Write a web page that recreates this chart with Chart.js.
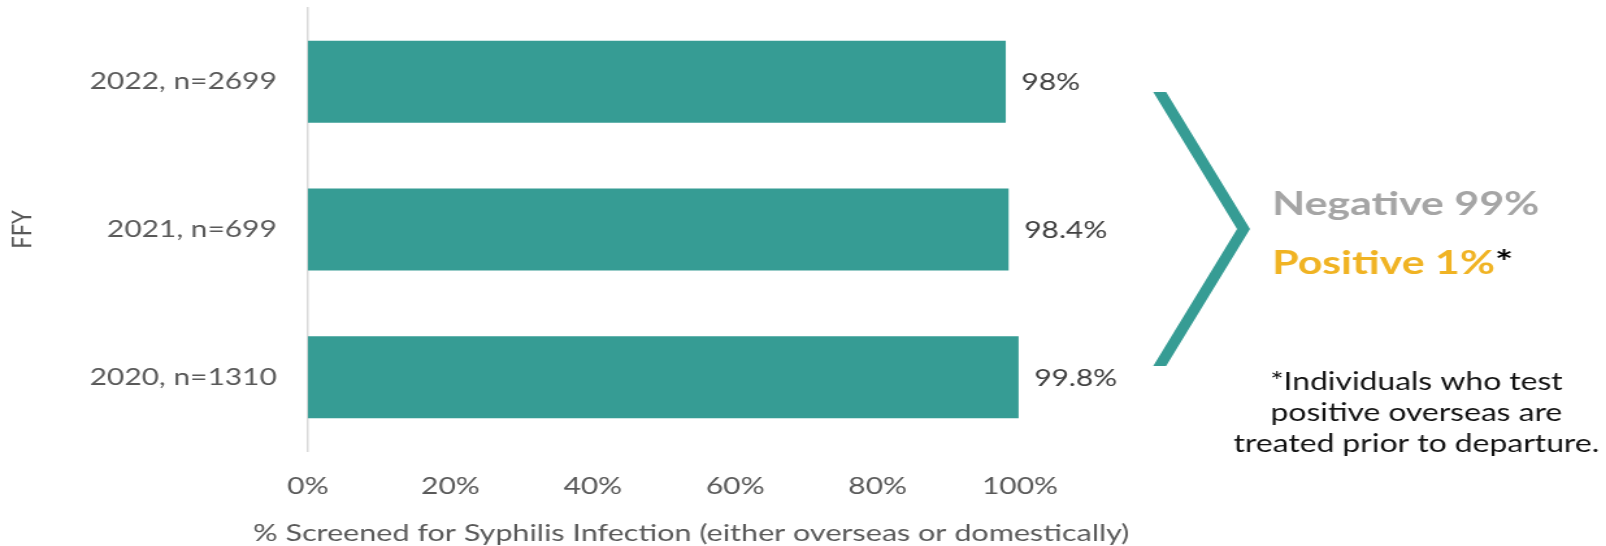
<!DOCTYPE html>
<html>
<head>
<meta charset="utf-8">
<title>Syphilis screening by FFY</title>
<script src="https://cdn.jsdelivr.net/npm/chart.js@4/dist/chart.umd.min.js"></script>
<style>
    html, body { margin: 0; padding: 0; background: #fff; overflow: hidden; }
    /* the chart is laid out narrow and widened to the 1606px slide width */
    #wrap { width: 1236px; height: 546px; transform: scaleX(1.2994); transform-origin: 0 0; }
</style>
</head>
<body>
<div id="wrap"><canvas id="screeningChart" width="1236" height="546"></canvas></div>
<script>
// Screening results per fiscal year (top to bottom)
const categories = ['2022, n=2699', '2021, n=699', '2020, n=1310'];
const screenedPct = [98, 98.4, 99.8];
const xTicks = [0, 20, 40, 60, 80, 100];

const xTitle = '% Screened for Syphilis Infection (either overseas or domestically)';
const negativeText = 'Negative 99%';
const positiveText = 'Positive 1%';
const footnoteLines = ['*Individuals who test', 'positive overseas are', 'treated prior to departure.'];

const TEAL = '#369c94';
const AXIS_TEXT = '#595959';
const FONT = 'Lato';

/**
 * Percent labels at the end of each bar
 */
const valueLabels = {
    id: 'valueLabels',
    afterDatasetsDraw(chart) {
        const ctx = chart.ctx;
        const meta = chart.getDatasetMeta(0);
        ctx.save();
        ctx.font = '23px ' + FONT;
        ctx.fillStyle = '#404040';
        ctx.textAlign = 'left';
        ctx.textBaseline = 'middle';
        meta.data.forEach((bar, i) => {
            ctx.fillText(screenedPct[i] + '%', bar.x + 12, bar.y + 1);
        });
        ctx.restore();
    }
};

/**
 * Axis title, bracket and the result summary on the right
 */
const sideNotes = {
    id: 'sideNotes',
    afterDraw(chart) {
        const ctx = chart.ctx;
        ctx.save();

        // x axis title
        ctx.font = '23.5px ' + FONT;
        ctx.fillStyle = AXIS_TEXT;
        ctx.textAlign = 'center';
        ctx.textBaseline = 'middle';
        ctx.fillText(xTitle, 532, 533);

        // bracket pointing at the summary, ends cut flat
        ctx.save();
        ctx.beginPath();
        ctx.rect(850, 92, 150, 274);
        ctx.clip();
        ctx.beginPath();
        ctx.moveTo(884, 74);
        ctx.lineTo(957, 229);
        ctx.lineTo(884, 384);
        ctx.strokeStyle = TEAL;
        ctx.lineWidth = 9;
        ctx.lineJoin = 'miter';
        ctx.stroke();
        ctx.restore();

        // summary
        ctx.textAlign = 'left';
        ctx.textBaseline = 'alphabetic';
        ctx.font = 'bold 33px ' + FONT;
        ctx.fillStyle = '#a5a5a5';
        ctx.fillText(negativeText, 979, 215);
        ctx.fillStyle = '#f0b323';
        ctx.fillText(positiveText, 979, 274);
        const w = ctx.measureText(positiveText).width;
        ctx.fillStyle = '#000';
        ctx.fillText('*', 979 + w, 274);

        // footnote
        ctx.font = '24.5px ' + FONT;
        ctx.fillStyle = '#111';
        ctx.textAlign = 'center';
        footnoteLines.forEach((line, i) => {
            ctx.fillText(line, 1090, 390 + i * 31);
        });

        ctx.restore();
    }
};

new Chart(document.getElementById('screeningChart'), {
    type: 'bar',
    data: {
        labels: categories,
        datasets: [{
            label: 'Screened',
            data: screenedPct,
            backgroundColor: TEAL,
            borderWidth: 0,
            barPercentage: 0.555,
            categoryPercentage: 1
        }]
    },
    options: {
        indexAxis: 'y',
        responsive: false,
        animation: false,
        layout: {
            padding: { top: 8, right: 451, bottom: 0, left: 0 }
        },
        plugins: {
            legend: { display: false },
            tooltip: { enabled: false }
        },
        scales: {
            x: {
                min: xTicks[0],
                max: xTicks[xTicks.length - 1],
                grid: { display: false, drawTicks: false },
                border: { display: false },
                ticks: {
                    stepSize: xTicks[1] - xTicks[0],
                    color: AXIS_TEXT,
                    font: { family: FONT, size: 23 },
                    padding: 22,
                    callback: v => v + '%'
                },
                afterFit(scale) { scale.height = 95; }
            },
            y: {
                grid: { display: false, drawTicks: false },
                border: { display: true, color: '#d9d9d9', width: 1.5 },
                ticks: {
                    color: AXIS_TEXT,
                    font: { family: FONT, size: 23 },
                    padding: 24
                },
                title: {
                    display: true,
                    text: 'FFY',
                    color: AXIS_TEXT,
                    font: { family: FONT, size: 22 },
                    padding: { top: 4, bottom: 0 }
                },
                afterFit(scale) {
                    scale.width = 237;
                    // labels sit beside the bars, no overflow room needed
                    scale.paddingTop = 0;
                    scale.paddingBottom = 0;
                }
            }
        }
    },
    plugins: [valueLabels, sideNotes]
});
</script>
</body>
</html>
